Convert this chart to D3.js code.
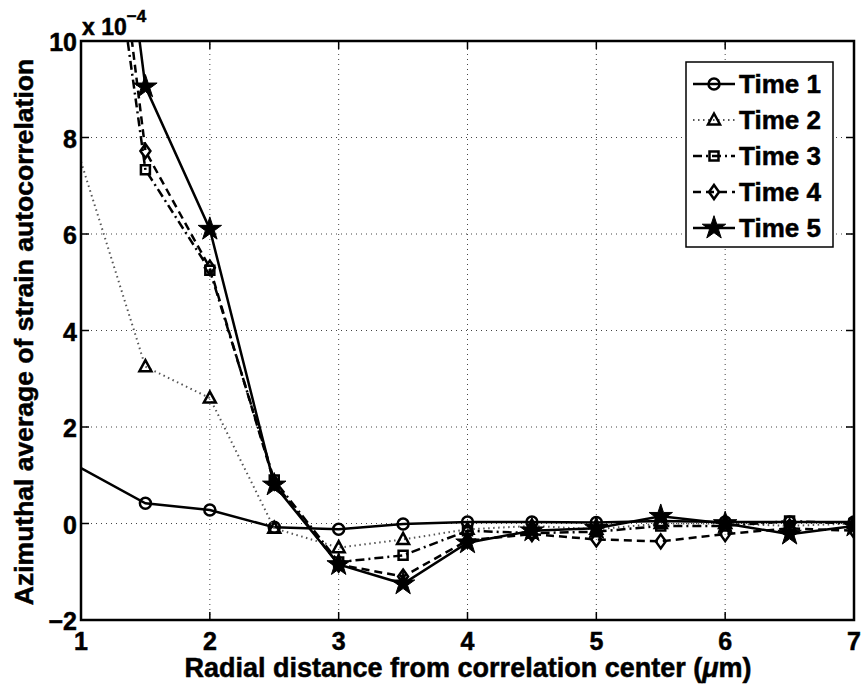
<!DOCTYPE html>
<html>
<head>
<meta charset="utf-8">
<script src="https://cdn.jsdelivr.net/npm/d3@7"></script>
<style>
  body { margin: 0; background: #fff; }
  svg { display: block; }
  text { font-family: Helvetica, Arial, "Liberation Sans", sans-serif; font-weight: bold; fill: #000; stroke: #000; stroke-width: 0.5px; }
</style>
</head>
<body>
<div id="chart"></div>
<script>
// *********************************************
// DATA (values in units of 1e-4)
// *********************************************
var radius_um = [1, 1.5, 2, 2.5, 3, 3.5, 4, 4.5, 5, 5.5, 6, 6.5, 7];

var time1 = [1.15, 0.42, 0.28, -0.08, -0.12, -0.01, 0.03, 0.03, 0.02, 0.05, 0.03, 0.03, 0.03];
var time2 = [7.5, 3.25, 2.6, -0.1, -0.5, -0.33, -0.12, -0.05, -0.12, 0.0, 0.0, -0.05, 0.0];
var time3 = [17, 7.33, 5.25, 0.9, -0.8, -0.66, -0.15, -0.2, -0.17, -0.05, -0.05, 0.05, 0.0];
var time4 = [18.6, 7.72, 5.3, 0.85, -0.85, -1.1, -0.35, -0.22, -0.33, -0.37, -0.22, -0.1, -0.15];
var time5 = [19.5, 9.05, 6.1, 0.8, -0.85, -1.25, -0.4, -0.15, -0.1, 0.15, 0.0, -0.22, -0.05];

var series_names = ["Time 1", "Time 2", "Time 3", "Time 4", "Time 5"];
var x_ticks = [1, 2, 3, 4, 5, 6, 7];
var y_ticks = [-2, 0, 2, 4, 6, 8, 10];

// *********************************************
// SETUP
// *********************************************
var width = 862, height = 687;
var margin = {left: 81, right: 8, top: 41, bottom: 67};

var svg = d3.select("#chart").append("svg")
    .attr("width", width)
    .attr("height", height);

var x = d3.scaleLinear().domain([1, 7]).range([margin.left, width - margin.right]);
var y = d3.scaleLinear().domain([-2, 10]).range([height - margin.bottom, margin.top]);

var x0 = x.range()[0], x1 = x.range()[1];
var y0 = y.range()[0], y1 = y.range()[1];

// series styles (MATLAB-ish)
var styles = [
  {data: time1, dash: null,         marker: "circle",   color: "#000", width: 2.5},
  {data: time2, dash: "1.5,3.5",    marker: "triangle", color: "#555", width: 2},
  {data: time3, dash: "9,4,2,4",    marker: "square",   color: "#000", width: 2.5},
  {data: time4, dash: "8,5",        marker: "diamond",  color: "#000", width: 2.5},
  {data: time5, dash: null,         marker: "star",     color: "#000", width: 2.5}
];

svg.append("defs").append("clipPath").attr("id", "plotclip")
  .append("rect")
    .attr("x", x0).attr("y", y1)
    .attr("width", x1 - x0).attr("height", y0 - y1);

// grid
var grid = svg.append("g").attr("id", "grid");
grid.selectAll("line.vx").data(x_ticks.slice(1, -1)).enter().append("line")
  .attr("x1", d => x(d)).attr("x2", d => x(d))
  .attr("y1", y0).attr("y2", y1)
  .style("stroke", "#444").style("stroke-width", 1).style("stroke-dasharray", "1,4");
grid.selectAll("line.hy").data(y_ticks.slice(1, -1)).enter().append("line")
  .attr("y1", d => y(d)).attr("y2", d => y(d))
  .attr("x1", x0).attr("x2", x1)
  .style("stroke", "#444").style("stroke-width", 1).style("stroke-dasharray", "1,4");

// marker shapes
function markerPath(type) {
  if (type == "triangle") return "M0,-6.5L6,4.5L-6,4.5Z";
  if (type == "square") return "M-4.5,-4.5H4.5V4.5H-4.5Z";
  if (type == "diamond") return "M0,-7L5,0L0,7L-5,0Z";
  if (type == "star") return d3.symbol().type(d3.symbolStar).size(170)();
}

function drawMarker(g, type, cx, cy) {
  if (type == "circle") {
    g.append("circle").attr("cx", cx).attr("cy", cy).attr("r", 5.5)
      .style("fill", "none").style("stroke", "#000").style("stroke-width", 2.5);
  } else {
    g.append("path").attr("d", markerPath(type))
      .attr("transform", "translate(" + cx + "," + cy + ")")
      .style("fill", type == "star" ? "#000" : "none")
      .style("stroke", "#000").style("stroke-width", type == "star" ? 1 : 2.5)
      .style("stroke-linejoin", "miter");
  }
}

// lines
var line = d3.line()
  .x(function(d) { return x(d[0]); })
  .y(function(d) { return y(d[1]); });

var plot = svg.append("g").attr("clip-path", "url(#plotclip)");
styles.forEach(function(s) {
  var pts = radius_um.map(function(r, i) { return [r, s.data[i]]; });
  plot.append("path")
    .datum(pts)
    .attr("d", line)
    .style("fill", "none")
    .style("stroke", s.color)
    .style("stroke-width", s.width)
    .style("stroke-dasharray", s.dash);
  var mg = plot.append("g");
  pts.forEach(function(p) {
    if (p[0] > 1) drawMarker(mg, s.marker, x(p[0]), y(p[1]));
  });
});

// axes box
svg.append("rect")
  .attr("x", x0).attr("y", y1)
  .attr("width", x1 - x0).attr("height", y0 - y1)
  .style("fill", "none").style("stroke", "#000").style("stroke-width", 2.5);

var tickLen = 8;
var ticks = svg.append("g").style("stroke", "#000").style("stroke-width", 1.5);
x_ticks.forEach(function(t) {
  ticks.append("line").attr("x1", x(t)).attr("x2", x(t)).attr("y1", y0).attr("y2", y0 - tickLen);
  ticks.append("line").attr("x1", x(t)).attr("x2", x(t)).attr("y1", y1).attr("y2", y1 + tickLen);
});
y_ticks.forEach(function(t) {
  ticks.append("line").attr("y1", y(t)).attr("y2", y(t)).attr("x1", x0).attr("x2", x0 + tickLen);
  ticks.append("line").attr("y1", y(t)).attr("y2", y(t)).attr("x1", x1).attr("x2", x1 - tickLen);
});

// tick labels
svg.append("g").selectAll("text").data(x_ticks).enter().append("text")
  .attr("x", d => x(d)).attr("y", y0 + 30)
  .attr("text-anchor", "middle")
  .style("font-size", "25px")
  .text(d => d);

svg.append("g").selectAll("text").data(y_ticks).enter().append("text")
  .attr("x", x0 - 4).attr("y", d => y(d) + 10)
  .attr("text-anchor", "end")
  .style("font-size", "25px")
  .text(d => d < 0 ? "\u2212" + Math.abs(d) : d);

// exponent label
var expo = svg.append("text").attr("x", x0 + 1).attr("y", 35).style("font-size", "23px");
expo.append("tspan").text("x 10");
expo.append("tspan").attr("dy", -13).style("font-size", "17px").text("\u22124");

// axis titles
var xt = svg.append("text")
  .attr("x", 468).attr("y", 677)
  .attr("text-anchor", "middle")
  .style("font-size", "27px");
xt.append("tspan").text("Radial distance from correlation center (");
xt.append("tspan").style("font-style", "italic").text("\u03bc");
xt.append("tspan").text("m)");

svg.append("text")
  .attr("transform", "translate(33,332) rotate(-90)")
  .attr("text-anchor", "middle")
  .style("font-size", "26.5px")
  .text("Azimuthal average of strain autocorrelation");

// legend
var lg = svg.append("g").attr("id", "legend");
lg.append("rect")
  .attr("x", 686).attr("y", 62).attr("width", 147).attr("height", 185)
  .style("fill", "#fff").style("stroke", "#000").style("stroke-width", 1.5);

series_names.forEach(function(name, i) {
  var s = styles[i];
  var ly = 84 + i * 36;
  lg.append("line")
    .attr("x1", 693).attr("x2", 735).attr("y1", ly).attr("y2", ly)
    .style("stroke", s.color).style("stroke-width", s.width)
    .style("stroke-dasharray", s.dash);
  drawMarker(lg, s.marker, 714, ly);
  lg.append("text")
    .attr("x", 739).attr("y", ly + 9)
    .style("font-size", "26px")
    .text(name);
});
</script>
</body>
</html>
